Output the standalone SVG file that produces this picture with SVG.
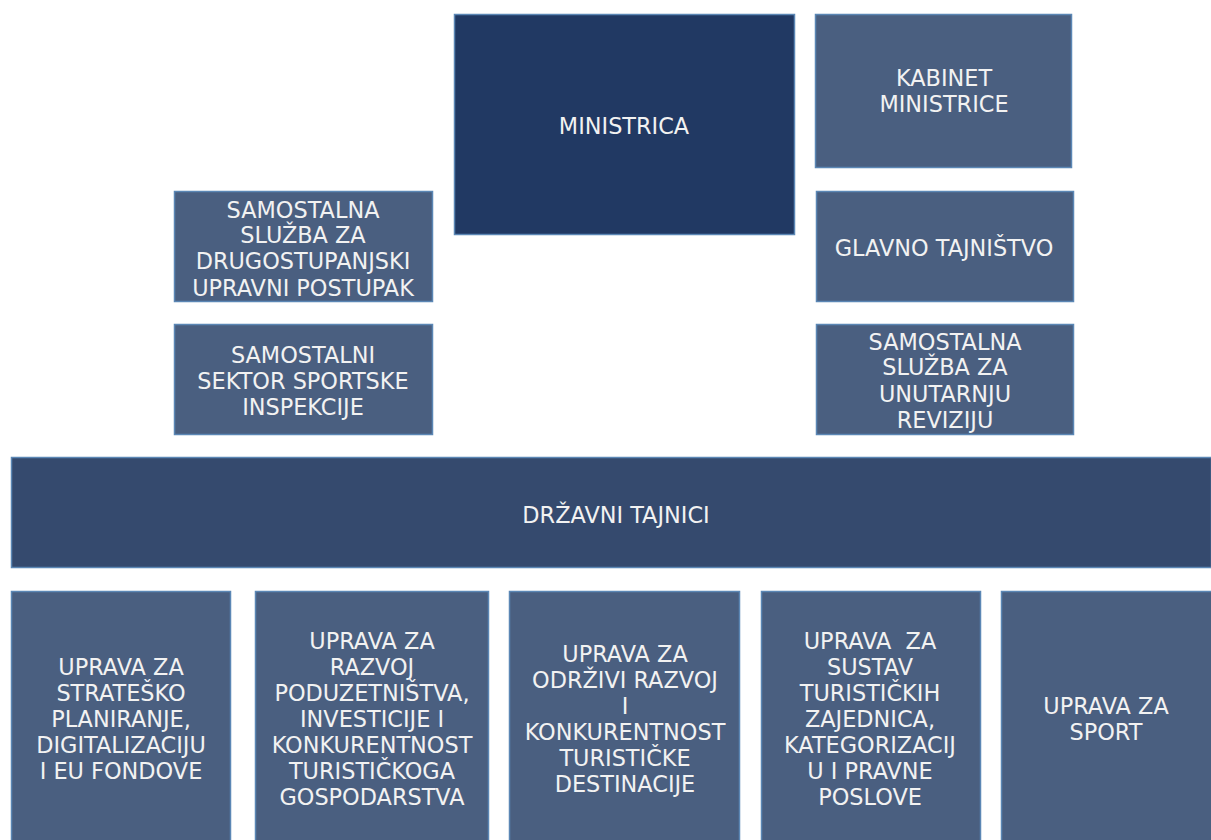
<svg xmlns="http://www.w3.org/2000/svg" width="1211" height="840" viewBox="0 0 1211 840">
<style>
.box{fill:#4a5f80;stroke:#5b87b5;stroke-width:1.5}
.top{fill:#213963;stroke:#5b87b5;stroke-width:1.5}
.mid{fill:#354a6e;stroke:#5b87b5;stroke-width:1.5}
text{font-family:"DejaVu Sans","Verdana",sans-serif;font-size:22.4px;fill:#f2f2f2;text-anchor:middle;white-space:pre}
</style>
<rect width="1211" height="840" fill="#ffffff"/>
<g id="connectors"></g>
<g id="ministrica"><rect class="top" x="454.5" y="14.5" width="340" height="220"/><text x="624" y="134">MINISTRICA</text></g>
<g id="kabinet"><rect class="box" x="815.5" y="14.5" width="256" height="153"/><text x="944" y="86">KABINET</text><text x="944" y="112">MINISTRICE</text></g>
<g id="drugostupanjski"><rect class="box" x="174.5" y="191.5" width="258" height="110"/><text x="303" y="218">SAMOSTALNA</text><text x="303" y="243">SLUŽBA ZA</text><text x="303" y="269">DRUGOSTUPANJSKI</text><text x="303" y="296">UPRAVNI POSTUPAK</text></g>
<g id="glavno"><rect class="box" x="816.5" y="191.5" width="257" height="110"/><text x="944" y="256">GLAVNO TAJNIŠTVO</text></g>
<g id="inspekcija"><rect class="box" x="174.5" y="324.5" width="258" height="110"/><text x="303" y="363">SAMOSTALNI</text><text x="303" y="389">SEKTOR SPORTSKE</text><text x="303" y="415">INSPEKCIJE</text></g>
<g id="revizija"><rect class="box" x="816.5" y="324.5" width="257" height="110"/><text x="945" y="350">SAMOSTALNA</text><text x="945" y="375">SLUŽBA ZA</text><text x="945" y="402">UNUTARNJU</text><text x="945" y="428">REVIZIJU</text></g>
<g id="drzavni"><rect class="mid" x="11.5" y="457.5" width="1200" height="110"/><text x="616" y="523">DRŽAVNI TAJNICI</text></g>
<g id="uprava1"><rect class="box" x="11.5" y="591.5" width="219" height="260"/><text x="121" y="675">UPRAVA ZA</text><text x="121" y="701">STRATEŠKO</text><text x="121" y="727">PLANIRANJE,</text><text x="121" y="753">DIGITALIZACIJU</text><text x="121" y="779">I EU FONDOVE</text></g>
<g id="uprava2"><rect class="box" x="255.5" y="591.5" width="233" height="260"/><text x="372" y="649">UPRAVA ZA</text><text x="372" y="675">RAZVOJ</text><text x="372" y="701">PODUZETNIŠTVA,</text><text x="372" y="727">INVESTICIJE I</text><text x="372" y="753">KONKURENTNOST</text><text x="372" y="779">TURISTIČKOGA</text><text x="372" y="805">GOSPODARSTVA</text></g>
<g id="uprava3"><rect class="box" x="509.5" y="591.5" width="230" height="260"/><text x="625" y="662">UPRAVA ZA</text><text x="625" y="688">ODRŽIVI RAZVOJ</text><text x="625" y="714">I</text><text x="625" y="740">KONKURENTNOST</text><text x="625" y="766">TURISTIČKE</text><text x="625" y="792">DESTINACIJE</text></g>
<g id="uprava4"><rect class="box" x="761.5" y="591.5" width="219" height="260"/><text x="870" y="649">UPRAVA  ZA</text><text x="870" y="675">SUSTAV</text><text x="870" y="701">TURISTIČKIH</text><text x="870" y="727">ZAJEDNICA,</text><text x="870" y="753">KATEGORIZACIJ</text><text x="870" y="779">U I PRAVNE</text><text x="870" y="805">POSLOVE</text></g>
<g id="uprava5"><rect class="box" x="1001.5" y="591.5" width="220" height="260"/><text x="1106" y="714">UPRAVA ZA</text><text x="1106" y="740">SPORT</text></g>
</svg>
